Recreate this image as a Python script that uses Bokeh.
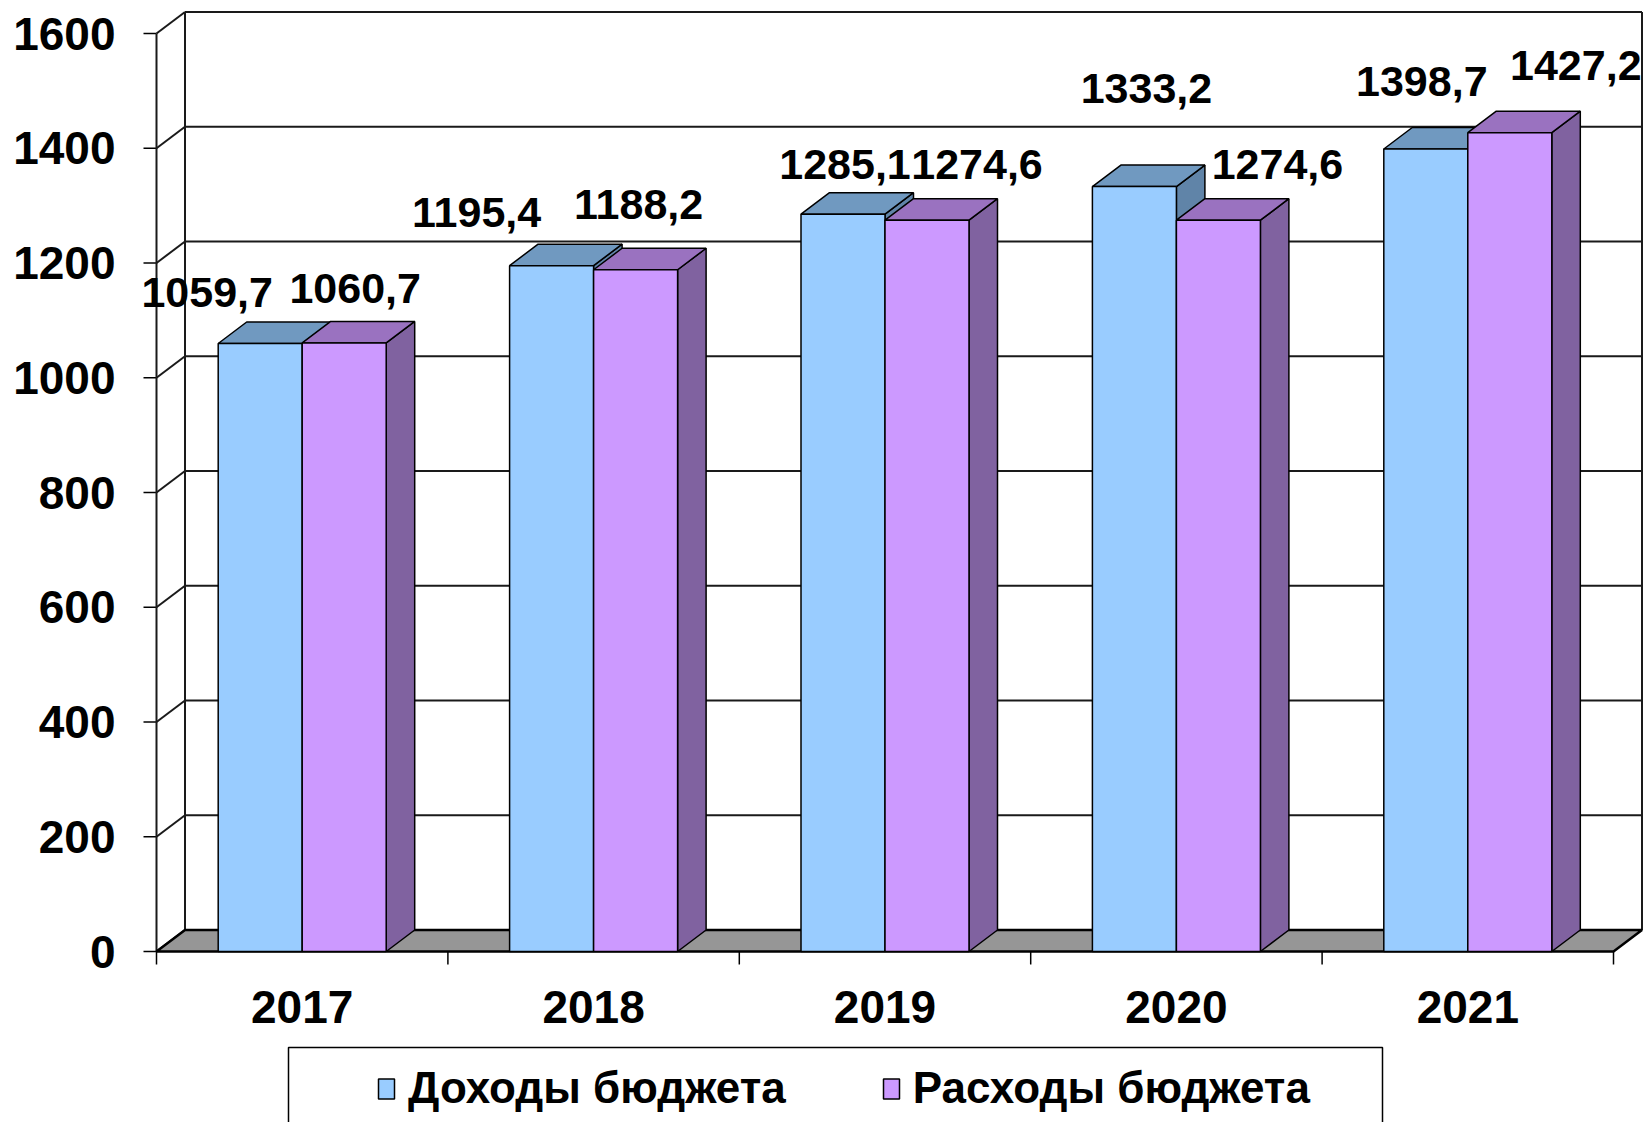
from bokeh.plotting import figure
from bokeh.models import Range1d, FixedTicker, Legend, LegendItem, ColumnDataSource
from bokeh.core.properties import value
from bokeh.embed import file_html
from bokeh.resources import INLINE

# ---------------- data ----------------
years = ["2017", "2018", "2019", "2020", "2021"]
income = [1059.7, 1195.4, 1285.1, 1333.2, 1398.7]
expense = [1060.7, 1188.2, 1274.6, 1274.6, 1427.2]
series_names = ["Доходы бюджета", "Расходы бюджета"]
y_ticks = [0, 200, 400, 600, 800, 1000, 1200, 1400, 1600]

# manual nudges of the value labels (screen px, right / up), as in the original
income_label_dx = [-53, -75, 2, 12, -4]
income_label_dy = [51, 53, 50, 98, 67]
expense_label_dx = [11, 3, 50, 59, 66]
expense_label_dy = [54, 65, 56, 56, 67]

# ---------------- layout constants ----------------
W, H = 1647, 1122
FRAME_LEFT = 120      # frame left edge (px)
AXIS_X = 156          # px of the front value axis (category 0 edge)
PX_CAT = 291.4        # px per category
PX_UNIT = 0.57375     # px per value unit
ZERO_Y = 951          # px from top where value 0 sits
DEPTH_X_PX, DEPTH_Y_PX = 28.5, 21.5
BAR_PX = 84
TICK_PX = 13
LEGEND_BOX = (288, 1382, 1047)   # left, right, top (px)

FONT = value("Liberation Sans")
N = len(years)
YMAX = y_ticks[-1]
DX = DEPTH_X_PX / PX_CAT
DY = DEPTH_Y_PX / PX_UNIT
BW = BAR_PX / PX_CAT

x_start = -(AXIS_X - FRAME_LEFT) / PX_CAT
x_end = (W - AXIS_X) / PX_CAT
y_end = ZERO_Y / PX_UNIT
y_start = -(H - ZERO_Y) / PX_UNIT

p = figure(width=W, height=H, x_range=Range1d(x_start, x_end), y_range=Range1d(y_start, y_end),
           output_backend="svg", toolbar_location=None, title=None,
           min_border_left=FRAME_LEFT, min_border_right=0, min_border_top=0, min_border_bottom=0,
           x_axis_location=None, y_axis_location="left")
p.grid.visible = False
p.outline_line_color = None
p.background_fill_color = "white"
p.border_fill_color = "white"

ax = p.yaxis[0]
ax.ticker = FixedTicker(ticks=y_ticks)
ax.axis_line_color = None
ax.major_tick_out = 0
ax.major_tick_in = 0
ax.minor_tick_out = 0
ax.minor_tick_in = 0
ax.major_tick_line_color = None
ax.minor_tick_line_color = None
ax.major_label_standoff = 5
ax.major_label_text_font = "Liberation Sans"
ax.major_label_text_font_size = "46px"
ax.major_label_text_font_style = "bold"
ax.major_label_text_color = "black"

GRID = "#1a1a1a"
tick_dx = TICK_PX / PX_CAT
tick_dy = TICK_PX / PX_UNIT
# value-axis tick marks
p.segment(x0=[-tick_dx] * len(y_ticks), y0=y_ticks, x1=[0] * len(y_ticks), y1=y_ticks,
          line_color="black", line_width=1.5)
# back wall horizontal grid lines
p.multi_line(xs=[[DX, N + DX] for v in y_ticks], ys=[[v + DY, v + DY] for v in y_ticks],
             line_color=GRID, line_width=2)
# side wall diagonals
p.multi_line(xs=[[0, DX] for v in y_ticks], ys=[[v, v + DY] for v in y_ticks],
             line_color=GRID, line_width=2)
# wall verticals and front axis line
p.multi_line(xs=[[DX, DX], [N + DX, N + DX], [0, 0]],
             ys=[[DY, YMAX + DY], [DY, YMAX + DY], [0, YMAX]],
             line_color=GRID, line_width=2)
# floor
p.patch(x=[0, N, N + DX, DX], y=[0, 0, DY, DY], fill_color="#969696",
        line_color="black", line_width=2.5)
# category boundary ticks
p.segment(x0=list(range(N + 1)), y0=[0] * (N + 1), x1=list(range(N + 1)), y1=[-tick_dy] * (N + 1),
          line_color="black", line_width=1.5)

styles = [
    dict(front="#99CCFF", top="#7099C0", side="#6084A8"),
    dict(front="#CC99FF", top="#9A72C0", side="#8062A0"),
]
fronts = []
for s, vals in enumerate([income, expense]):
    x0s = [i + 0.5 - BW + s * BW for i in range(N)]
    x1s = [x + BW for x in x0s]
    side_xs = [[x1, x1 + DX, x1 + DX, x1] for x1 in x1s]
    side_ys = [[0, DY, v + DY, v] for v in vals]
    top_xs = [[x0, x1, x1 + DX, x0 + DX] for x0, x1 in zip(x0s, x1s)]
    top_ys = [[v, v, v + DY, v + DY] for v in vals]
    st = styles[s]
    p.patches(xs=side_xs, ys=side_ys, fill_color=st["side"], line_color="black", line_width=1.5)
    p.patches(xs=top_xs, ys=top_ys, fill_color=st["top"], line_color="black", line_width=1.5)
    r = p.quad(left=x0s, right=x1s, bottom=[0] * N, top=vals, fill_color=st["front"],
               line_color="black", line_width=1.5)
    fronts.append(r)

# value labels
for s, (vals, ldx, ldy) in enumerate([(income, income_label_dx, income_label_dy),
                                       (expense, expense_label_dx, expense_label_dy)]):
    src = ColumnDataSource(dict(
        x=[i + 0.5 - BW / 2 + s * BW for i in range(N)],
        y=vals,
        t=[("%.1f" % v).replace(".", ",") for v in vals],
        xo=ldx,
        yo=[-d for d in ldy],
    ))
    p.text(x="x", y="y", text="t", x_offset="xo", y_offset="yo", source=src,
           text_font=FONT, text_font_size="43px", text_font_style="bold",
           text_align="center", text_baseline="middle", text_color="black")

# category labels
p.text(x=[i + 0.5 for i in range(N)], y=[0] * N, text=years, y_offset=55,
       text_font=FONT, text_font_size="46px", text_font_style="bold",
       text_align="center", text_baseline="middle", text_color="black")

# legend frame (box continues past the bottom edge)
box_l = (LEGEND_BOX[0] - AXIS_X) / PX_CAT
box_r = (LEGEND_BOX[1] - AXIS_X) / PX_CAT
box_t = (ZERO_Y - LEGEND_BOX[2]) / PX_UNIT
p.line(x=[box_l, box_l, box_r, box_r], y=[y_start - 100, box_t, box_t, y_start - 100],
       line_color="black", line_width=1.5)

legend = Legend(items=[LegendItem(label=series_names[0], renderers=[fronts[0]]),
                       LegendItem(label=series_names[1], renderers=[fronts[1]])],
                orientation="horizontal", location=(376 - FRAME_LEFT, 9),
                glyph_width=20, glyph_height=25, label_standoff=12, spacing=95,
                padding=0, margin=0, border_line_color=None, background_fill_alpha=0,
                label_text_font="Liberation Sans", label_text_font_size="44px",
                label_text_font_style="bold", label_text_color="black")
p.add_layout(legend, "center")

with open("out.html", "w", encoding="utf-8") as f:
    f.write(file_html(p, INLINE))
